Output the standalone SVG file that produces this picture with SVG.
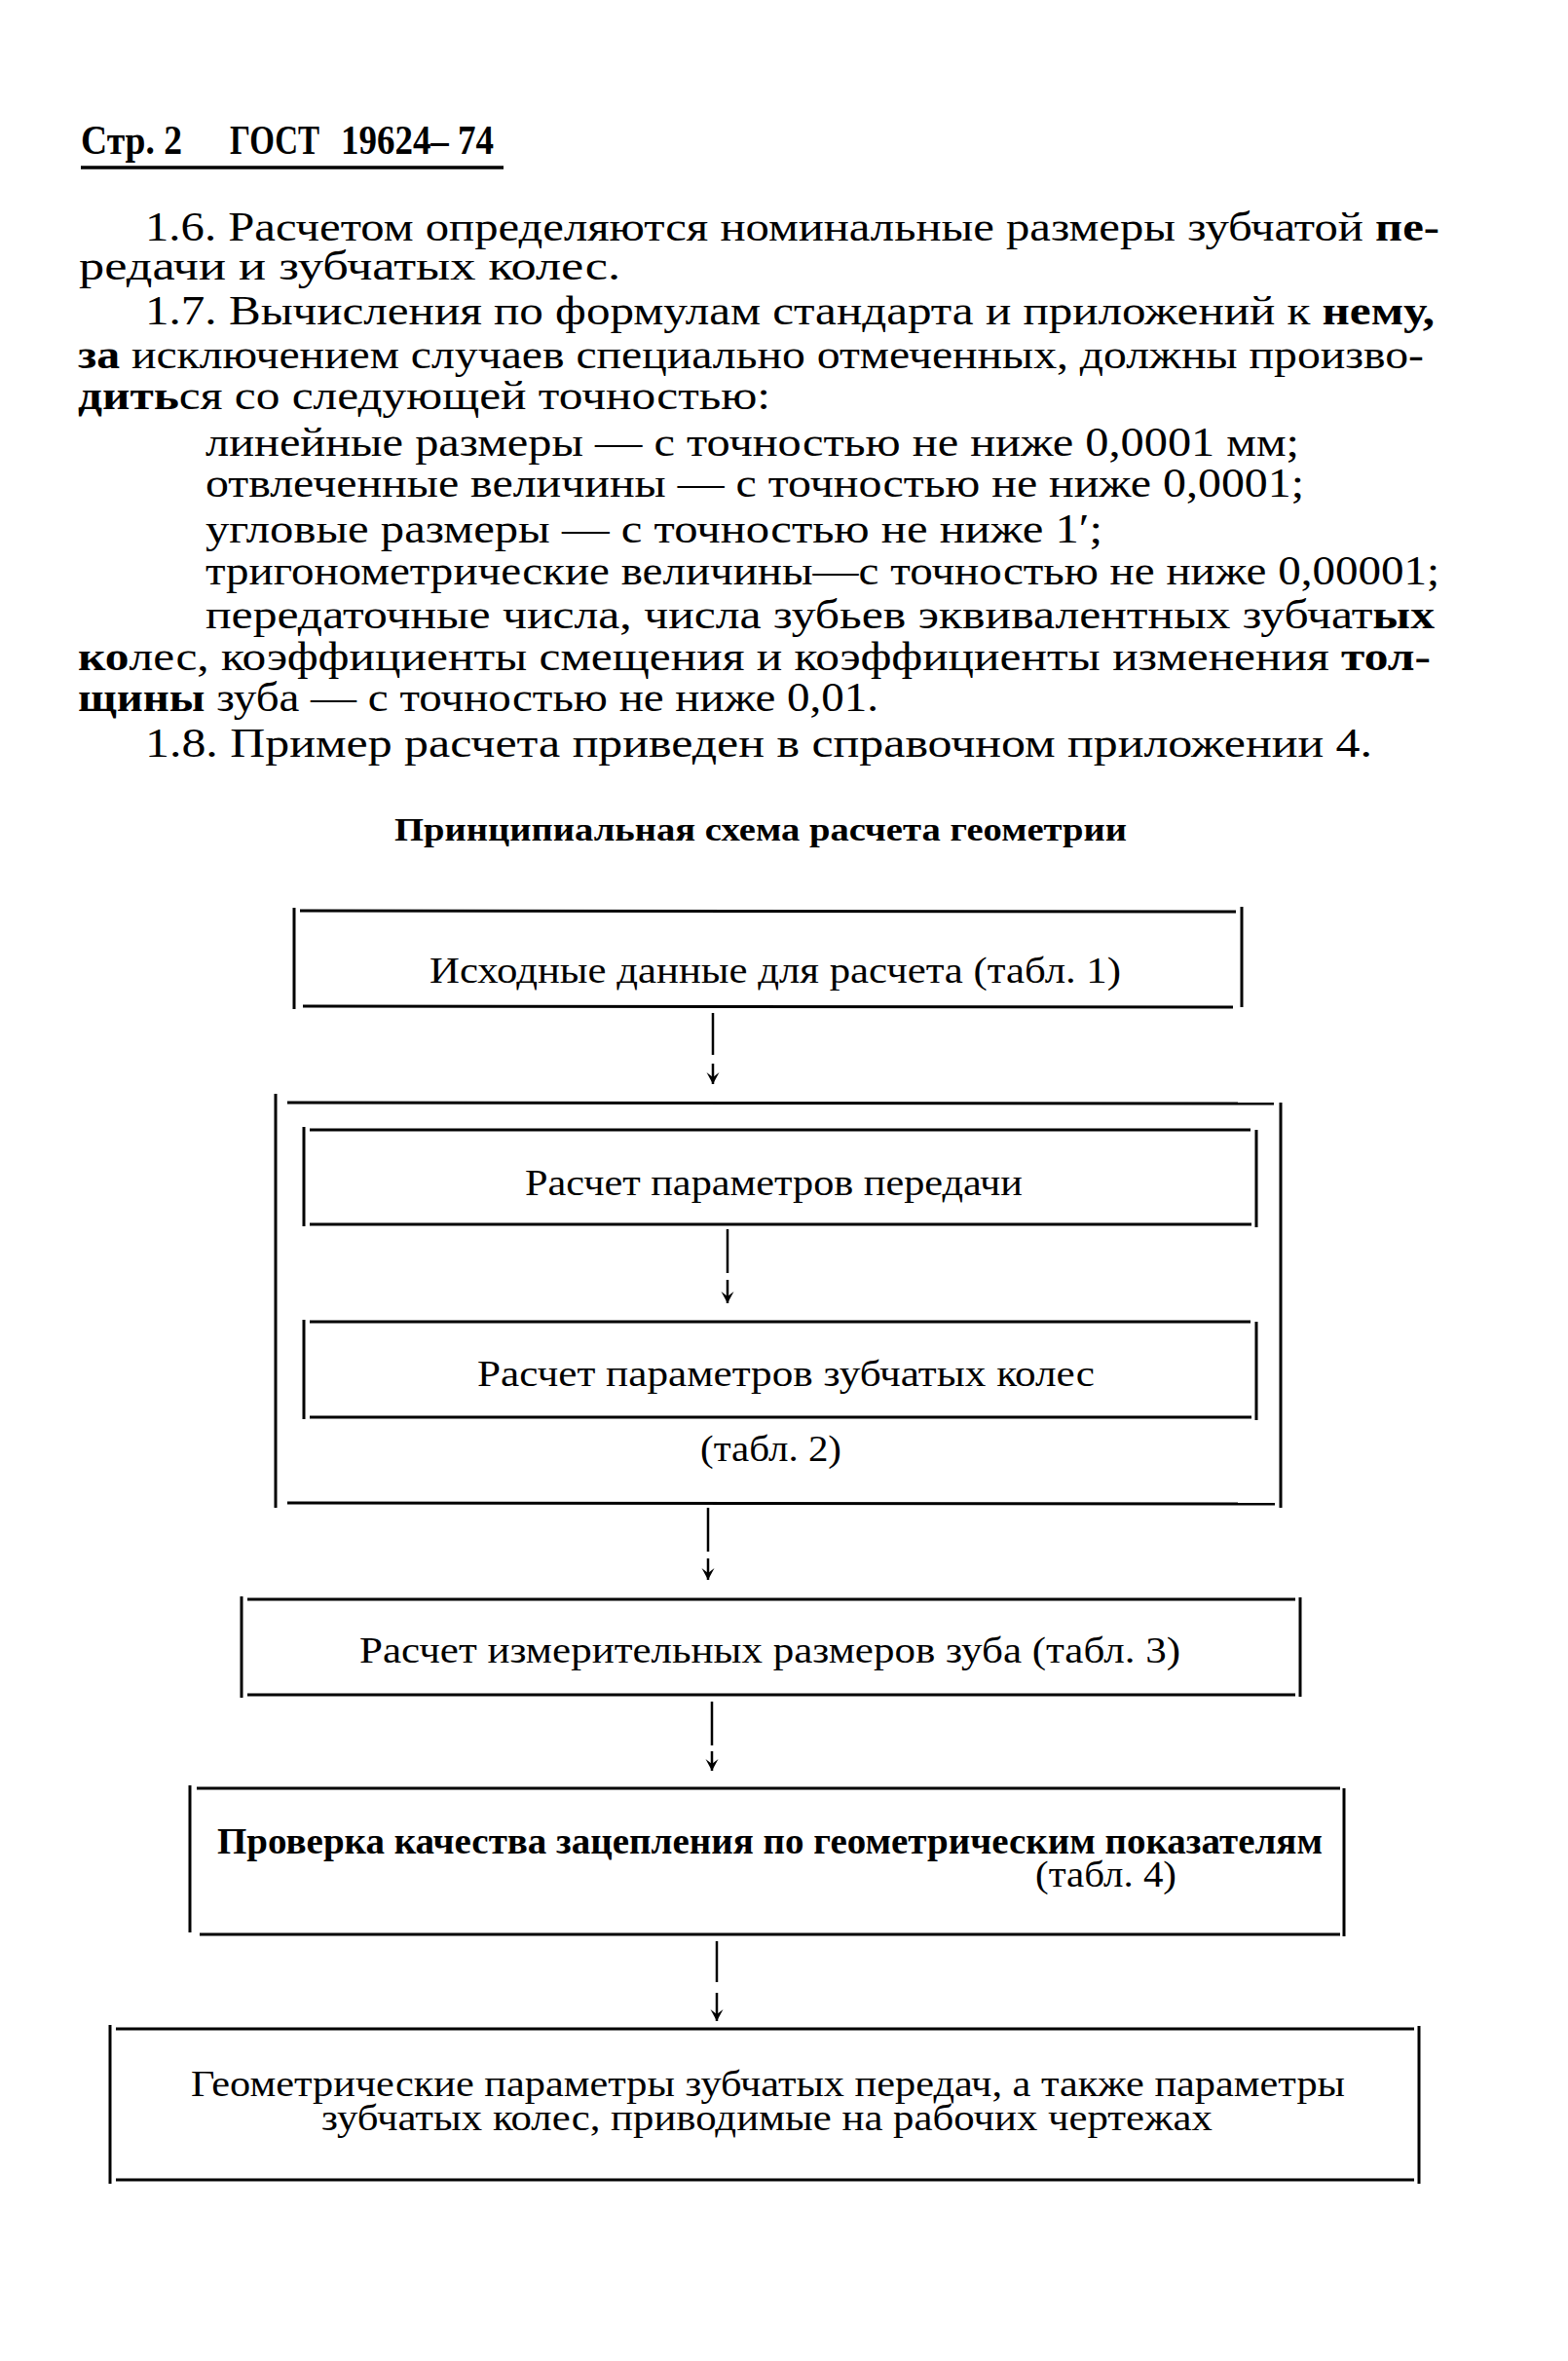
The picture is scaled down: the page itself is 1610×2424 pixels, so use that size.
<svg xmlns="http://www.w3.org/2000/svg" width="1610" height="2424" viewBox="0 0 1610 2424">
<style>
  text { font-family: "Liberation Serif", "DejaVu Serif", serif; fill: #000; }
  .body { font-size: 42px; }
  .hdr { font-size: 42px; font-weight: bold; }
  .title { font-size: 34px; font-weight: bold; }
  .box { font-size: 37px; }
  .b { font-weight: bold; }
  .frame line { stroke: #000; stroke-width: 3; }
  .conn line { stroke: #000; stroke-width: 2.5; }
  .rule { stroke: #000; stroke-width: 3.5; }
</style>
<defs>
  <marker id="ah" markerUnits="userSpaceOnUse" viewBox="-14 -8 16 16" markerWidth="16" markerHeight="16" refX="0" refY="0" orient="auto">
    <path d="M0,0 L-12,-6.5 L-7,0 L-12,6.5 Z" fill="#000"/>
  </marker>
</defs>
<rect width="1610" height="2424" fill="#fff"/>

<g id="header">
  <text class="hdr" x="83" y="158" textLength="104" lengthAdjust="spacingAndGlyphs">Стр. 2</text>
  <text class="hdr" x="236" y="158" textLength="92" lengthAdjust="spacingAndGlyphs">ГОСТ</text>
  <text class="hdr" x="350" y="158" textLength="157" lengthAdjust="spacingAndGlyphs">19624– 74</text>
  <line class="rule" x1="83" y1="172" x2="517" y2="172"/>
</g>

<g id="paragraphs">
  <text class="body" x="149" y="247" textLength="1329" lengthAdjust="spacingAndGlyphs">1.6. Расчетом определяются номинальные размеры зубчатой <tspan class="b">пе-</tspan></text>
  <text class="body" x="81" y="287" textLength="556" lengthAdjust="spacingAndGlyphs">редачи и зубчатых колес.</text>
  <text class="body" x="149" y="333" textLength="1324" lengthAdjust="spacingAndGlyphs">1.7. Вычисления по формулам стандарта и приложений к <tspan class="b">нему,</tspan></text>
  <text class="body" x="80" y="378" textLength="1382" lengthAdjust="spacingAndGlyphs"><tspan class="b">за</tspan> исключением случаев специально отмеченных, должны произво-</text>
  <text class="body" x="80" y="420" textLength="711" lengthAdjust="spacingAndGlyphs"><tspan class="b">дить</tspan>ся со следующей точностью:</text>
  <text class="body" x="211" y="468" textLength="1123" lengthAdjust="spacingAndGlyphs">линейные размеры — с точностью не ниже 0,0001 мм;</text>
  <text class="body" x="211" y="510" textLength="1128" lengthAdjust="spacingAndGlyphs">отвлеченные величины — с точностью не ниже 0,0001;</text>
  <text class="body" x="211" y="557" textLength="921" lengthAdjust="spacingAndGlyphs">угловые размеры — с точностью не ниже 1′;</text>
  <text class="body" x="211" y="600" textLength="1267" lengthAdjust="spacingAndGlyphs">тригонометрические величины—с точностью не ниже 0,00001;</text>
  <text class="body" x="211" y="645" textLength="1262" lengthAdjust="spacingAndGlyphs">передаточные числа, числа зубьев эквивалентных зубчат<tspan class="b">ых</tspan></text>
  <text class="body" x="80" y="688" textLength="1389" lengthAdjust="spacingAndGlyphs"><tspan class="b">ко</tspan>лес, коэффициенты смещения и коэффициенты изменения  <tspan class="b">тол-</tspan></text>
  <text class="body" x="80" y="730" textLength="822" lengthAdjust="spacingAndGlyphs"><tspan class="b">щины</tspan> зуба — с точностью не ниже 0,01.</text>
  <text class="body" x="149" y="777" textLength="1260" lengthAdjust="spacingAndGlyphs">1.8. Пример расчета приведен в справочном приложении 4.</text>
</g>

<g id="title">
  <text class="title" x="405" y="863" textLength="752" lengthAdjust="spacingAndGlyphs">Принципиальная схема расчета геометрии</text>
</g>

<g id="node-input" class="frame">
  <line x1="302" y1="932" x2="302" y2="1036"/>
  <line x1="1275" y1="931" x2="1275" y2="1034"/>
  <line x1="308" y1="935" x2="1269" y2="936"/>
  <line x1="311" y1="1033" x2="1266" y2="1034"/>
  <text class="box" x="441" y="1009" textLength="710" lengthAdjust="spacingAndGlyphs">Исходные данные для расчета (табл. 1)</text>
</g>

<g id="node-group" class="frame">
  <line x1="283" y1="1123" x2="283" y2="1548"/>
  <line x1="1315" y1="1132" x2="1315" y2="1548"/>
  <line x1="295" y1="1132" x2="1308" y2="1133"/>
  <line x1="295" y1="1543" x2="1309" y2="1544"/>
  <text class="box" x="719" y="1500" textLength="145" lengthAdjust="spacingAndGlyphs">(табл. 2)</text>
</g>

<g id="node-transmission" class="frame">
  <line x1="312" y1="1157" x2="312" y2="1259"/>
  <line x1="1290" y1="1160" x2="1290" y2="1260"/>
  <line x1="318" y1="1160" x2="1284" y2="1160"/>
  <line x1="318" y1="1257" x2="1285" y2="1257"/>
  <text class="box" x="539" y="1227" textLength="511" lengthAdjust="spacingAndGlyphs">Расчет параметров передачи</text>
</g>

<g id="node-gears" class="frame">
  <line x1="312" y1="1355" x2="312" y2="1457"/>
  <line x1="1290" y1="1357" x2="1290" y2="1458"/>
  <line x1="318" y1="1357" x2="1284" y2="1357"/>
  <line x1="318" y1="1455" x2="1285" y2="1455"/>
  <text class="box" x="490" y="1423" textLength="634" lengthAdjust="spacingAndGlyphs">Расчет параметров зубчатых колес</text>
</g>

<g id="node-measure" class="frame">
  <line x1="248" y1="1639" x2="248" y2="1743"/>
  <line x1="1335" y1="1640" x2="1335" y2="1742"/>
  <line x1="254" y1="1642" x2="1330" y2="1642"/>
  <line x1="254" y1="1740" x2="1330" y2="1740"/>
  <text class="box" x="369" y="1707" textLength="843" lengthAdjust="spacingAndGlyphs">Расчет измерительных размеров зуба (табл. 3)</text>
</g>

<g id="node-check" class="frame">
  <line x1="195" y1="1833" x2="195" y2="1984"/>
  <line x1="1380" y1="1836" x2="1380" y2="1988"/>
  <line x1="202" y1="1836" x2="1376" y2="1836"/>
  <line x1="205" y1="1986" x2="1376" y2="1986"/>
  <text class="box b" x="223" y="1903" textLength="1135" lengthAdjust="spacingAndGlyphs">Проверка качества зацепления по геометрическим показателям</text>
  <text class="box" x="1063" y="1937" textLength="145" lengthAdjust="spacingAndGlyphs">(табл. 4)</text>
</g>

<g id="node-output" class="frame">
  <line x1="113" y1="2079" x2="113" y2="2242"/>
  <line x1="1457" y1="2080" x2="1457" y2="2242"/>
  <line x1="119" y1="2083" x2="1452" y2="2083"/>
  <line x1="119" y1="2238" x2="1452" y2="2238"/>
  <text class="box" x="196" y="2152" textLength="1185" lengthAdjust="spacingAndGlyphs">Геометрические параметры зубчатых передач, а также параметры</text>
  <text class="box" x="330" y="2187" textLength="915" lengthAdjust="spacingAndGlyphs">зубчатых колес, приводимые на рабочих чертежах</text>
</g>

<g id="connectors" class="conn">
  <line x1="732" y1="1040" x2="732" y2="1083"/>
  <line x1="732" y1="1092" x2="732" y2="1113" marker-end="url(#ah)"/>
  <line x1="747" y1="1262" x2="747" y2="1307"/>
  <line x1="747" y1="1314" x2="747" y2="1338" marker-end="url(#ah)"/>
  <line x1="727" y1="1548" x2="727" y2="1593"/>
  <line x1="727" y1="1600" x2="727" y2="1622" marker-end="url(#ah)"/>
  <line x1="731" y1="1747" x2="731" y2="1792"/>
  <line x1="731" y1="1798" x2="731" y2="1818" marker-end="url(#ah)"/>
  <line x1="736" y1="1993" x2="736" y2="2035"/>
  <line x1="736" y1="2046" x2="736" y2="2075" marker-end="url(#ah)"/>
</g>
</svg>
